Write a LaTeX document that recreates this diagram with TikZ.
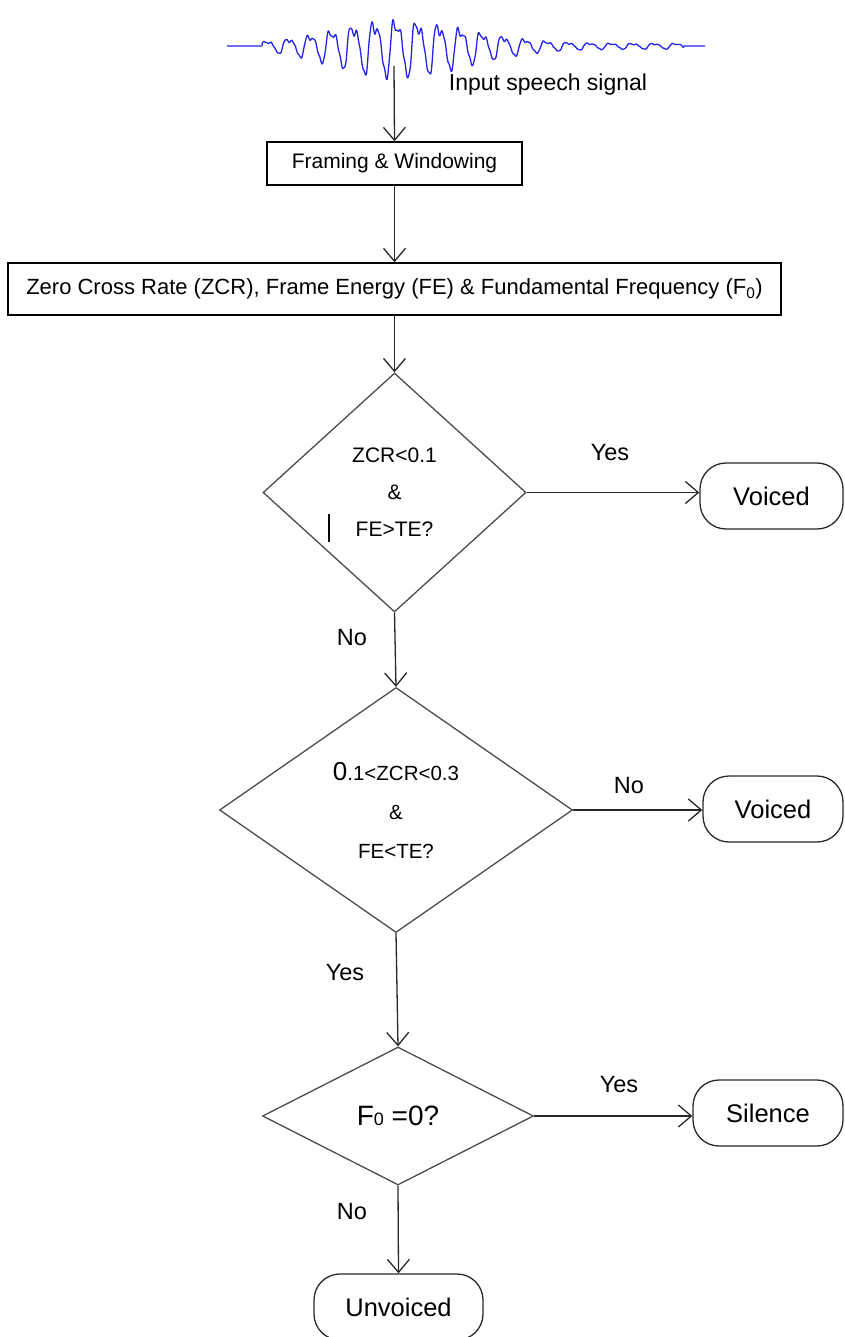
\documentclass[tikz,border=0pt]{standalone}
\usepackage{fontspec}
\setmainfont{Liberation Sans}
\usetikzlibrary{shapes.geometric,arrows.meta}
\definecolor{sigblue}{RGB}{35,35,235}
\definecolor{inkgray}{RGB}{40,40,40}
\begin{document}
\begin{tikzpicture}[x=1pt,y=-1pt,
  declare function={
    ph(\t)=(\t-262)/21.5;
    env(\t)=(\t>262)*(\t<684)*(2.5+23*exp(-((\t-395)/((\t<395)*85+(\t>=395)*100))^2));
    sig(\t)=sin(mod(ph(\t),1)*360)+0.35*sin(mod(2*ph(\t),1)*360+60)+0.15*sin(mod(3*ph(\t),1)*360+20)
            +0.08*sin(mod(5.3*ph(\t),1)*360);
  },
  proc/.style={draw=black, line width=1.4pt, rectangle, inner sep=0pt},
  cond/.style={draw=black!70, line width=1.3pt, diamond, inner sep=0pt, align=center,
               font=\fontsize{21}{37}\selectfont},
  term/.style={draw=inkgray, line width=1.3pt, rectangle, rounded corners=26pt, inner sep=0pt,
               minimum height=66pt, font=\fontsize{25.5}{30}\selectfont},
  flow/.style={draw=inkgray, line width=1.3pt, -{Straight Barb[length=13pt,width=22pt]}},
  lbl/.style={font=\fontsize{23.5}{28}\selectfont, inner sep=0pt},
  sigline/.style={draw=sigblue, line width=1.3pt, line join=round},
]
\useasboundingbox (0,0) rectangle (844,1337);
\clip (0,0) rectangle (844,1337);

% speech waveform
\draw[sigline] plot[domain=227:705, samples=960] (\x, {46 - env(\x)*sig(\x)});
\coordinate (src) at (394,66);
\node[font=\fontsize{23}{28}\selectfont, inner sep=0pt] (siglabel) at (548,85) {Input speech signal};

% processing boxes
\node[proc, minimum width=255pt, minimum height=43pt, font=\fontsize{21}{25}\selectfont]
  (frame) at (394.5,163.5) {Framing \& Windowing};
\node[proc, minimum width=773pt, minimum height=52pt, font=\fontsize{22}{26}\selectfont]
  (feat) at (394.5,289) {Zero Cross Rate (ZCR), Frame Energy (FE) \& Fundamental Frequency (F\textsubscript{0})};

% decisions
\node[cond, minimum width=263pt, minimum height=239pt] (d1) at (394.5,492.5)
  {ZCR<0.1\\\&\\FE>TE?};
\node[cond, minimum width=353pt, minimum height=245pt, font=\fontsize{20.5}{39}\selectfont]
  (d2) at (396,810) {{\fontsize{26}{26}\selectfont 0}.1<ZCR<0.3\\\&\\FE<TE?};
\node[cond, minimum width=271pt, minimum height=138pt, font=\fontsize{28}{32}\selectfont]
  (d3) at (398,1116) {F{\fontsize{18}{18}\selectfont 0} =0?};

% terminals
\node[term, minimum width=143pt] (v1) at (771.5,496) {Voiced};
\node[term, minimum width=140pt] (v2) at (773,809) {Voiced};
\node[term, minimum width=150pt] (sil) at (768,1113) {Silence};
\node[term, minimum width=169pt] (unv) at (398.5,1307) {Unvoiced};

% connectors
\draw[flow] (src) -- (frame.north);
\draw[flow] (frame.south) -- (feat.north);
\draw[flow] (feat.south) -- (d1.north);
\draw[flow] (d1.east) -- (d1.east -| v1.west);
\draw[flow] (d1.south) -- (d2.north);
\draw[flow] (d2.east) -- (d2.east -| v2.west);
\draw[flow] (d2.south) -- (d3.north);
\draw[flow] (d3.east) -- (d3.east -| sil.west);
\draw[flow] (d3.south) -- (unv.north);

% branch labels
\node[lbl] (y1) at (610,453) {Yes};
\node[lbl] (n1) at (352,638) {No};
\node[lbl] (n2) at (629,786) {No};
\node[lbl] (y2) at (345,973) {Yes};
\node[lbl] (y3) at (619,1085) {Yes};
\node[lbl] (n3) at (352,1212) {No};

% stray cursor mark inside the first decision
\draw[line width=1.5pt, black] (329,514) -- (329,542);
\end{tikzpicture}
\end{document}
